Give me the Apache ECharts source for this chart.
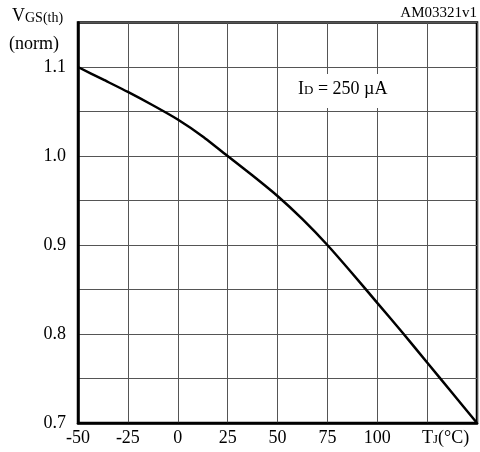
<!DOCTYPE html>
<html>
<head>
<meta charset="utf-8">
<script src="https://cdn.jsdelivr.net/npm/echarts@6/dist/echarts.min.js"></script>
<style>
html,body{margin:0;padding:0;background:#fff;}
#chart{width:480px;height:452px;}
</style>
</head>
<body>
<div id="chart"></div>
<script>
const temps = [-50, -37.5, -25, -12.5, 0, 12.5, 25, 37.5, 50, 62.5, 75, 87.5, 100, 112.5, 125, 137.5, 150];
const vgsNorm = [1.1, 1.086, 1.072, 1.057, 1.041, 1.022, 1.0, 0.978, 0.955, 0.929, 0.9, 0.868, 0.835, 0.802, 0.768, 0.734, 0.7];
const xTickLabels = [-50, -25, 0, 25, 50, 75, 100];
const yTickLabels = [0.7, 0.8, 0.9, 1.0, 1.1];

const FONT = '"Liberation Serif", "Times New Roman", serif';
const chart = echarts.init(document.getElementById('chart'), null, {renderer: 'canvas'});
const pts = temps.map((t, i) => [t, vgsNorm[i]]);

chart.setOption({
  animation: false,
  backgroundColor: '#fff',
  grid: {left: 78, right: 2, top: 22.5, bottom: 29, show: true, borderColor: '#000', borderWidth: 2.5, backgroundColor: 'transparent'},
  xAxis: {
    type: 'value', min: -50, max: 150, interval: 25,
    axisLine: {show: true, onZero: false, lineStyle: {color: '#000', width: 2.5}},
    axisTick: {show: false},
    splitLine: {show: true, lineStyle: {color: '#555', width: 1}},
    axisLabel: {
      color: '#000', fontFamily: FONT, fontSize: 18, margin: 6,
      formatter: v => xTickLabels.some(t => Math.abs(t - v) < 1e-6) ? String(v) : ''
    }
  },
  yAxis: {
    type: 'value', min: 0.7, max: 1.15, interval: 0.05,
    axisLine: {show: true, onZero: false, lineStyle: {color: '#000', width: 2.5}},
    axisTick: {show: false},
    splitLine: {show: true, lineStyle: {color: '#555', width: 1}},
    axisLabel: {
      color: '#000', fontFamily: FONT, fontSize: 18, margin: 12,
      formatter: v => yTickLabels.some(t => Math.abs(t - v) < 1e-6) ? v.toFixed(1) : ''
    }
  },
  series: [{
    type: 'line', data: pts, smooth: 0.2, showSymbol: false,
    lineStyle: {color: '#000', width: 2.5}, z: 5
  }],
  graphic: [
    {type: 'rect', z: 50, shape: {x: 292, y: 74, width: 118, height: 34}, style: {fill: '#fff'}},
    {type: 'text', z: 51, left: 298, top: 80,
      style: {text: '{a|I}{b|D}{a| = 250 µA}', rich: {
        a: {fontFamily: FONT, fontSize: 18, fill: '#000'},
        b: {fontFamily: FONT, fontSize: 13, fill: '#000', padding: [4, 0, 0, 0]}
      }}},
    {type: 'text', z: 51, left: 12, top: 7,
      style: {text: '{a|V}{b|GS(th)}', rich: {
        a: {fontFamily: FONT, fontSize: 18, fill: '#000'},
        b: {fontFamily: FONT, fontSize: 14, fill: '#000', padding: [4, 0, 0, 0]}
      }}},
    {type: 'text', z: 51, left: 9, top: 35,
      style: {text: '(norm)', fontFamily: FONT, fontSize: 18, fill: '#000'}},
    {type: 'text', z: 51, right: 3, top: 6,
      style: {text: 'AM03321v1', fontFamily: FONT, fontSize: 15, fill: '#000'}},
    {type: 'text', z: 51, left: 422, top: 429,
      style: {text: '{a|T}{b|J}{a|(°C)}', rich: {
        a: {fontFamily: FONT, fontSize: 18, fill: '#000'},
        b: {fontFamily: FONT, fontSize: 13, fill: '#000', padding: [4, 0, 0, 0]}
      }}}
  ]
});
</script>
</body>
</html>
